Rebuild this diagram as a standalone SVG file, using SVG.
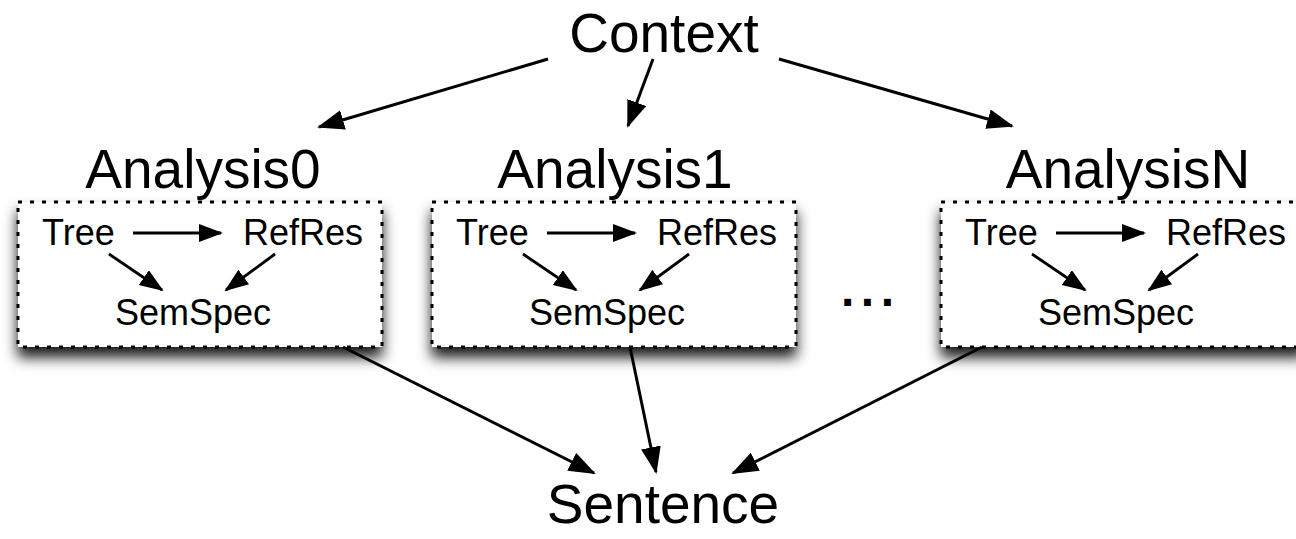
<svg xmlns="http://www.w3.org/2000/svg" width="1296" height="539" viewBox="0 0 1296 539">
  <style>
    .big { font-family: "Liberation Sans", Arial, Helvetica, sans-serif; font-size: 55px; fill: #000; text-anchor: middle; }
    .small { font-family: "Liberation Sans", Arial, Helvetica, sans-serif; font-size: 36px; fill: #000; }
    .box { fill: #fff; stroke: #000; stroke-width: 3; stroke-dasharray: 4 8; filter: url(#shadow); }
    .edge { stroke: #000; stroke-width: 3; fill: none; marker-end: url(#arrow); }
    .iedge { stroke: #000; stroke-width: 2.8; fill: none; marker-end: url(#arrowS); }
  </style>
  <defs>
    <filter id="shadow" x="-10%" y="-20%" width="120%" height="160%">
      <feDropShadow dx="0" dy="10" stdDeviation="7" flood-color="#000" flood-opacity="0.9"/>
    </filter>
    <marker id="arrow" markerUnits="userSpaceOnUse" markerWidth="30" markerHeight="22" refX="25" refY="10" orient="auto">
      <path d="M0,0 L27,10 L0,20 z" fill="#000"/>
    </marker>
    <marker id="arrowS" markerUnits="userSpaceOnUse" markerWidth="26" markerHeight="20" refX="22" refY="9" orient="auto">
      <path d="M0,0 L24,9 L0,18 z" fill="#000"/>
    </marker>
  </defs>
  <rect width="1296" height="539" fill="#fff"/>

  <g id="context"><text class="big" x="664" y="52">Context</text></g>

  <g id="analysis0">
    <text class="big" x="203" y="188">Analysis0</text>
    <rect class="box" x="18" y="202" width="364" height="145"/>
    <g id="tree0"><text class="small" x="42" y="245">Tree</text></g>
    <g id="refres0"><text class="small" x="243" y="245">RefRes</text></g>
    <g id="semspec0"><text class="small" x="115" y="325">SemSpec</text></g>
  </g>

  <g id="analysis1">
    <text class="big" x="615" y="188">Analysis1</text>
    <rect class="box" x="432" y="202" width="364" height="145"/>
    <g id="tree1"><text class="small" x="456" y="245">Tree</text></g>
    <g id="refres1"><text class="small" x="657" y="245">RefRes</text></g>
    <g id="semspec1"><text class="small" x="529" y="325">SemSpec</text></g>
  </g>

  <g id="ellipsis"><text class="small" x="841" y="306" style="font-size:48px;font-weight:bold;letter-spacing:6.5px">...</text></g>

  <g id="analysisN">
    <text class="big" x="1128" y="188">AnalysisN</text>
    <rect class="box" x="941" y="202" width="364" height="145"/>
    <g id="treeN"><text class="small" x="965" y="245">Tree</text></g>
    <g id="refresN"><text class="small" x="1166" y="245">RefRes</text></g>
    <g id="semspecN"><text class="small" x="1038" y="325">SemSpec</text></g>
  </g>

  <g id="sentence"><text class="big" x="663" y="523">Sentence</text></g>

  <g id="connectors">
    <line class="edge" x1="548" y1="59" x2="319" y2="127"/>
    <line class="edge" x1="653" y1="59" x2="628" y2="126"/>
    <line class="edge" x1="779" y1="59" x2="1012" y2="126"/>
    <line class="edge" x1="343" y1="347" x2="594" y2="473"/>
    <line class="edge" x1="630" y1="347" x2="656" y2="472"/>
    <line class="edge" x1="982" y1="347" x2="733" y2="473"/>

    <line class="iedge" x1="133" y1="233" x2="221" y2="233"/>
    <line class="iedge" x1="109" y1="254" x2="162" y2="290"/>
    <line class="iedge" x1="275" y1="254" x2="226" y2="290"/>

    <line class="iedge" x1="547" y1="233" x2="635" y2="233"/>
    <line class="iedge" x1="523" y1="254" x2="576" y2="290"/>
    <line class="iedge" x1="689" y1="254" x2="640" y2="290"/>

    <line class="iedge" x1="1056" y1="233" x2="1144" y2="233"/>
    <line class="iedge" x1="1032" y1="254" x2="1085" y2="290"/>
    <line class="iedge" x1="1198" y1="254" x2="1149" y2="290"/>
  </g>
</svg>
